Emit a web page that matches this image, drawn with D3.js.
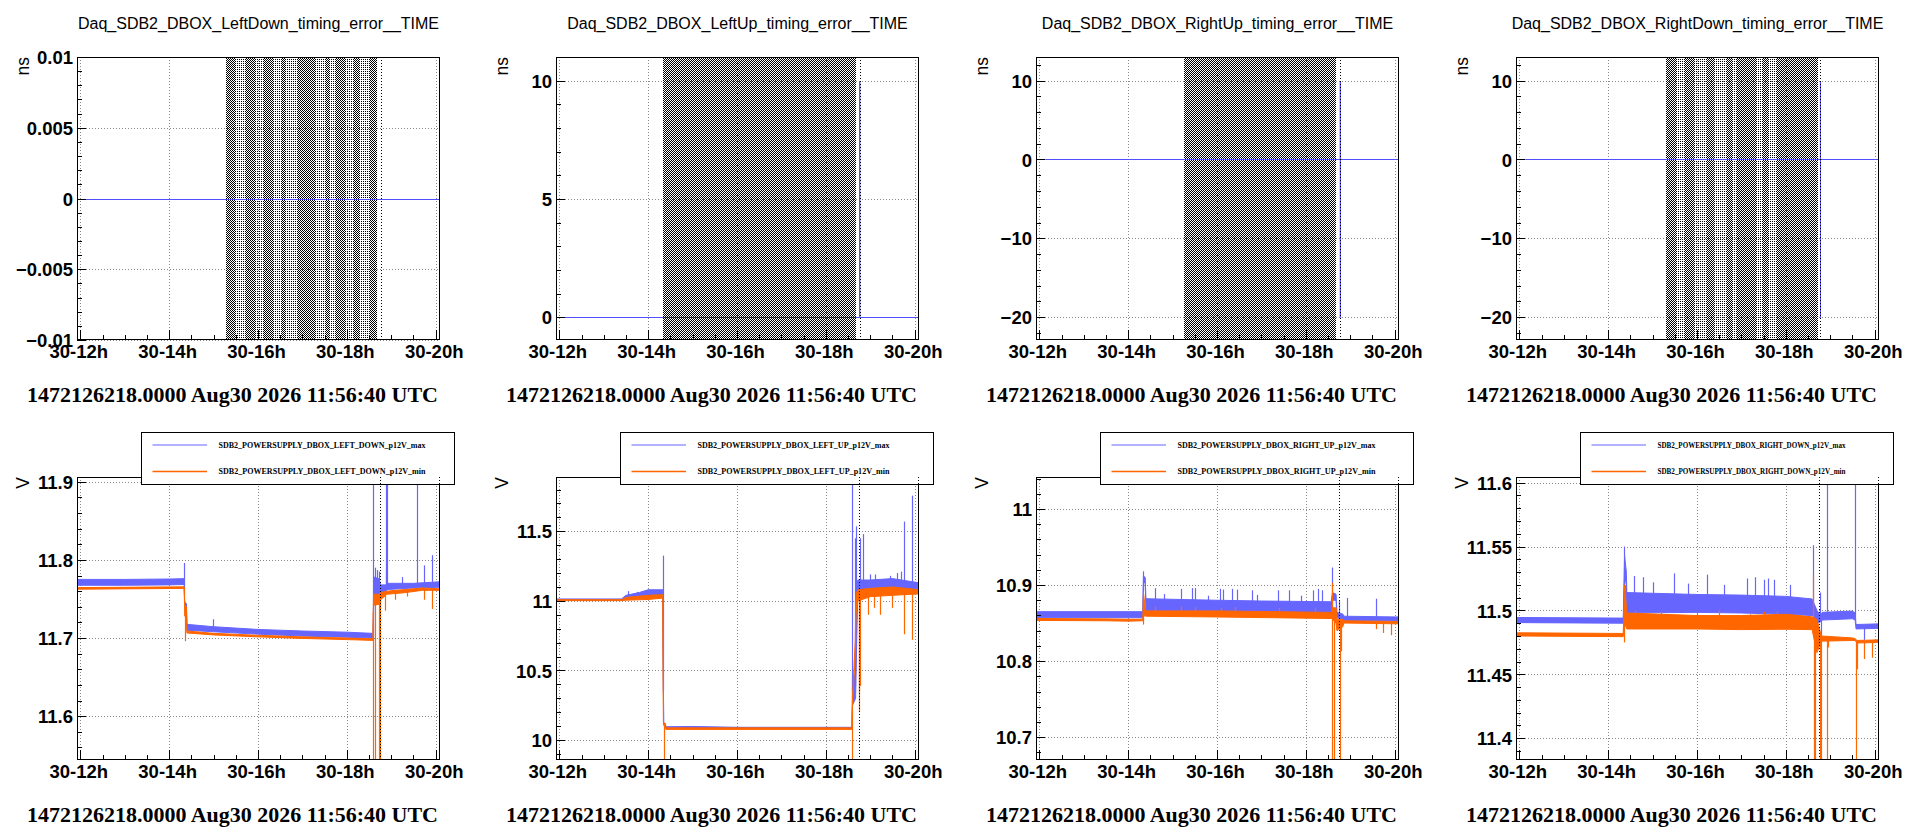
<!DOCTYPE html>
<html><head><meta charset="utf-8">
<script src="https://cdn.jsdelivr.net/npm/d3@7/dist/d3.min.js"></script>
<style>body{margin:0;background:#fff;overflow:hidden} svg{display:block}</style>
</head><body><svg id="c" width="1913" height="833"></svg>
<script>
// ---------------- DATA ----------------
const DAY = Date.UTC(2026, 7, 30);           // Aug 30 2026, times below in decimal UTC hours
const timeDomainHours = [11.926, 20.097];
const dateLabel = "1472126218.0000 Aug30 2026 11:56:40 UTC";

const timingTitles = [
  "Daq_SDB2_DBOX_LeftDown_timing_error__TIME",
  "Daq_SDB2_DBOX_LeftUp_timing_error__TIME",
  "Daq_SDB2_DBOX_RightUp_timing_error__TIME",
  "Daq_SDB2_DBOX_RightDown_timing_error__TIME"
];
const timingYDomains = [[-0.01, 0.01], [-0.96, 11.0], [-22.9, 13.0], [-22.9, 13.0]];
const timingYMajor = [0.005, 5, 10, 10];
const timingYMinor = [0.001, 1, 2, 2];

// timing error series [hour, ns]
const timingLD = [[12.135, 0], [20.097, 0]];
const timingLU = [[12.127, 0], [18.762, 0], [18.763, 10], [18.764, 0], [20.097, 0]];
const timingRU = [[12.15, 0], [18.775, 0], [18.776, 10], [18.777, -20], [18.778, 0], [20.097, 0]];
const timingRD = [[12.15, 0], [18.778, 0], [18.779, 10], [18.780, -20], [18.781, 0], [20.097, 0]];

// shaded error bands [startHour, endHour]
const bandLD_sparse = [[15.284, 18.674]];
const bandLD_dense = [[15.284, 15.509], [15.711, 15.936], [16.109, 16.341], [16.544, 16.611], [16.874, 17.286],
                      [17.511, 17.623], [17.736, 17.961], [18.134, 18.298], [18.523, 18.674]];
const bandLU_dense = [[14.339, 18.687]];
const bandRU_dense = [[15.261, 18.687]];
const bandRD_sparse = [[15.306, 18.718]];
const bandRD_dense = [[15.306, 15.531], [15.734, 15.943], [16.229, 16.393], [16.656, 16.806], [16.903, 17.331],
                      [17.481, 17.593], [17.781, 18.718]];

// black dotted marker times
const markerHoursTop = [18.77, 20.085];
const markerHoursBottom = [18.74, 20.085];

// power supply panels
const powerNames = ["LEFT_DOWN", "LEFT_UP", "RIGHT_UP", "RIGHT_DOWN"];
const powerYDomains = [[11.544, 11.906], [9.857, 11.89], [10.670, 11.042], [11.383, 11.6044]];
const powerYMajor = [0.1, 0.5, 0.1, 0.05];
const powerYMinor = [0.02, 0.1, 0.02, 0.01];

// max / min series: envelope [hour, low, high] and excursions [hour, value]
const ldMaxBand = [[11.93, 11.7675, 11.775], [13.0, 11.7675, 11.775], [14.0, 11.768, 11.7755], [14.34, 11.7685, 11.776],
  [14.35, 11.737, 11.746], [14.39, 11.735, 11.744], [14.40, 11.710, 11.7175], [15.0, 11.708, 11.7145],
  [16.0, 11.705, 11.711], [17.0, 11.7025, 11.709], [18.0, 11.701, 11.7075], [18.58, 11.700, 11.706],
  [18.59, 11.698, 11.703], [18.61, 11.755, 11.778], [18.72, 11.755, 11.776], [18.76, 11.755, 11.768],
  [18.88, 11.757, 11.768], [18.90, 11.762, 11.770], [19.5, 11.764, 11.770], [20.097, 11.765, 11.772]];
const ldMaxSpikes = [[14.345, 11.796], [14.98, 11.724], [18.585, 11.95], [18.64, 11.79], [18.69, 11.787],
  [18.73, 11.785], [18.875, 11.788], [18.89, 11.95], [18.905, 11.95], [19.25, 11.778], [19.59, 11.95],
  [19.74, 11.793], [19.92, 11.806]];
const ldMinBand = [[11.93, 11.7625, 11.7645], [14.34, 11.7635, 11.7655], [14.35, 11.728, 11.742], [14.39, 11.728, 11.740],
  [14.40, 11.7065, 11.709], [15.0, 11.704, 11.706], [16.0, 11.7015, 11.7035], [17.0, 11.6995, 11.7015],
  [18.0, 11.698, 11.700], [18.59, 11.697, 11.699], [18.60, 11.742, 11.756], [18.72, 11.743, 11.756],
  [18.76, 11.749, 11.758], [18.90, 11.756, 11.760], [19.3, 11.758, 11.762], [19.7, 11.761, 11.764], [20.097, 11.761, 11.763]];
const ldMinSpikes = [[14.348, 11.696], [18.597, 11.50], [18.627, 11.50], [18.735, 11.50], [18.755, 11.50],
  [18.86, 11.735], [19.08, 11.749], [19.35, 11.753], [19.74, 11.749], [19.92, 11.737]];

const luMaxBand = [[11.93, 11.005, 11.014], [13.40, 11.005, 11.014], [13.50, 11.01, 11.04], [13.80, 11.02, 11.06],
  [14.0, 11.03, 11.08], [14.33, 11.04, 11.08], [14.35, 10.11, 10.125], [14.40, 10.086, 10.096], [15.0, 10.086, 10.098],
  [16.0, 10.086, 10.092], [18.59, 10.086, 10.092], [18.60, 10.25, 10.45], [18.67, 10.30, 10.48], [18.70, 10.8, 11.1],
  [18.72, 11.07, 11.15], [19.0, 11.08, 11.15], [19.5, 11.08, 11.16], [20.097, 11.08, 11.13]];
const luMaxSpikes = [[13.55, 11.07], [13.75, 11.065], [14.345, 11.325], [18.60, 12.0], [18.66, 11.45], [18.69, 11.536], [18.76, 11.45], [18.83, 11.48],
  [19.0, 11.19], [19.1, 11.19], [19.45, 11.18], [19.6, 11.2], [19.7, 11.21], [19.76, 11.57], [19.93, 11.756]];
const luMinBand = [[11.93, 11.002, 11.009], [13.40, 11.002, 11.009], [13.50, 11.005, 11.025], [14.0, 11.01, 11.04],
  [14.33, 11.02, 11.045], [14.345, 10.11, 10.125], [14.39, 10.11, 10.12], [14.40, 10.077, 10.088], [18.59, 10.077, 10.088],
  [18.60, 10.25, 10.30], [18.66, 10.6, 10.7], [18.68, 10.9, 11.05], [18.72, 11.0, 11.08], [19.0, 11.03, 11.09],
  [19.5, 11.04, 11.10], [20.097, 11.05, 11.08]];
const luMinSpikes = [[14.346, 9.5], [18.597, 9.5], [18.74, 10.2], [18.75, 10.35], [18.77, 10.39], [18.95, 10.9],
  [19.08, 10.95], [19.23, 10.9], [19.5, 10.95], [19.76, 10.76], [19.93, 10.72]];

const ruMaxBand = [[11.93, 10.857, 10.865], [14.33, 10.857, 10.865], [14.345, 10.903, 10.912], [14.385, 10.903, 10.91],
  [14.40, 10.866, 10.882], [16.0, 10.865, 10.880], [17.0, 10.864, 10.879], [18.57, 10.862, 10.878],
  [18.60, 10.880, 10.890], [18.68, 10.880, 10.888], [18.70, 10.857, 10.864], [18.83, 10.855, 10.862],
  [18.86, 10.853, 10.859], [20.097, 10.853, 10.858]];
const ruMaxSpikes = [[14.34, 10.918], [14.60, 10.896], [14.8, 10.888], [15.20, 10.895], [15.43, 10.896], [15.50, 10.896],
  [15.8, 10.886], [16.06, 10.895], [16.14, 10.894], [16.33, 10.895], [16.44, 10.894], [16.78, 10.893], [16.9, 10.887],
  [17.38, 10.893], [17.62, 10.893], [17.9, 10.886], [18.16, 10.893], [18.27, 10.895], [18.37, 10.893],
  [18.597, 10.923], [18.75, 10.879], [18.93, 10.883], [19.57, 10.882]];
const ruMinBand = [[11.93, 10.8535, 10.856], [13.5, 10.853, 10.8555], [14.0, 10.8525, 10.855], [14.33, 10.853, 10.855],
  [14.345, 10.858, 10.89], [14.38, 10.86, 10.872], [14.40, 10.859, 10.866], [16.0, 10.858, 10.866],
  [18.57, 10.856, 10.864], [18.60, 10.855, 10.87], [18.68, 10.85, 10.87], [18.70, 10.84, 10.855],
  [18.83, 10.845, 10.855], [18.86, 10.850, 10.853], [20.097, 10.849, 10.852]];
const ruMinSpikes = [[14.34, 10.848], [14.6, 10.872], [15.2, 10.872], [15.5, 10.871], [16.1, 10.870], [16.4, 10.871],
  [17.4, 10.870], [18.2, 10.870], [18.597, 10.5], [18.60, 10.903], [18.627, 10.5], [18.762, 10.5], [18.80, 10.813],
  [19.57, 10.842], [19.74, 10.837], [19.92, 10.834]];

const rdMaxBand = [[11.95, 11.4905, 11.4945], [14.34, 11.490, 11.494], [14.37, 11.527, 11.543], [14.41, 11.520, 11.53],
  [14.42, 11.498, 11.514], [16.0, 11.4985, 11.5125], [17.0, 11.498, 11.512], [18.0, 11.497, 11.511],
  [18.59, 11.496, 11.509], [18.64, 11.495, 11.505], [18.70, 11.490, 11.500], [18.78, 11.491, 11.496],
  [18.82, 11.4925, 11.4985], [19.50, 11.4935, 11.4995], [19.56, 11.4925, 11.498], [19.58, 11.4855, 11.489],
  [20.097, 11.486, 11.4895]];
const rdMaxSpikes = [[14.36, 11.550], [14.58, 11.527], [14.79, 11.526], [15.0, 11.522], [15.48, 11.529], [15.8, 11.521],
  [16.23, 11.528], [16.6, 11.52], [17.13, 11.525], [17.3, 11.526], [17.5, 11.524], [17.6, 11.525], [17.73, 11.524],
  [18.1, 11.52], [18.614, 11.551], [18.76, 11.514], [18.80, 11.48], [18.93, 11.62], [19.566, 11.62], [19.75, 11.477]];
const rdMinBand = [[11.95, 11.480, 11.4825], [14.34, 11.4795, 11.482], [14.37, 11.49, 11.52], [14.42, 11.4855, 11.498],
  [16.0, 11.4855, 11.496], [17.0, 11.485, 11.496], [18.0, 11.4853, 11.497], [18.59, 11.485, 11.495],
  [18.70, 11.467, 11.493], [18.80, 11.476, 11.48], [19.50, 11.4765, 11.4785], [19.56, 11.4765, 11.478],
  [19.60, 11.4745, 11.4765], [20.097, 11.475, 11.477]];
const rdMinSpikes = [[14.36, 11.475], [14.38, 11.520], [14.6, 11.5], [15.2, 11.499], [16.0, 11.498], [16.5, 11.5],
  [17.2, 11.497], [17.5, 11.499], [17.8, 11.499], [18.614, 11.528], [18.629, 11.30], [18.667, 11.30], [18.764, 11.30],
  [18.801, 11.30], [18.929, 11.30], [18.95, 11.471], [19.581, 11.30], [19.60, 11.454], [19.753, 11.462], [19.94, 11.463]];

// ---------------- LAYOUT / STYLE ----------------
const plotW = 363, plotH = 283;
const colLeft = i => Math.round(76.7 + i * 479.65);
const rowTop = [57, 477];
const legendTextWidths = [207, 192, 198, 188];
const BLUE_T = "#5050ff", BLUE = "#6666ff", ORANGE = "#ff6600";
const SANS = "'Liberation Sans', Arial, Helvetica, sans-serif";
const SERIF = "'Liberation Serif', 'Times New Roman', serif";

const toDate = h => new Date(DAY + h * 3600e3);
const svg = d3.select("#c");
const defs = svg.append("defs");
const pd = defs.append("pattern").attr("id", "pDense").attr("patternUnits", "userSpaceOnUse").attr("width", 2).attr("height", 2);
pd.append("rect").attr("x", 0).attr("y", 0).attr("width", 1).attr("height", 1).attr("fill", "#000");
pd.append("rect").attr("x", 1).attr("y", 1).attr("width", 1).attr("height", 1).attr("fill", "#000");
const ps = defs.append("pattern").attr("id", "pSparse").attr("patternUnits", "userSpaceOnUse").attr("width", 2).attr("height", 2);
ps.append("rect").attr("x", 0).attr("y", 0).attr("width", 1).attr("height", 1).attr("fill", "#000");

function stepTicks(dom, step) {
  const out = [];
  for (let k = Math.ceil(dom[0] / step - 1e-9); k * step <= dom[1] + 1e-9; k++) out.push(+(k * step).toFixed(6));
  return out;
}
const fmtY = d3.format("~g");
const fmtX = d3.utcFormat("%d-%Hh");
let clipId = 0;

function makePanel(col, row, yDomain, major, minor, yLabel) {
  const left = colLeft(col), top = rowTop[row];
  const g = svg.append("g").attr("transform", `translate(${left},${top})`);
  const x = d3.scaleUtc().domain(timeDomainHours.map(toDate)).range([0, plotW]);
  const y = d3.scaleLinear().domain(yDomain).range([plotH, 0]);
  g.append("rect").attr("width", plotW).attr("height", plotH).attr("fill", "#fff");
  const xMaj = x.ticks(d3.utcHour.every(2)), xMin = x.ticks(d3.utcMinute.every(30));
  const yMaj = stepTicks(yDomain, major), yMin = stepTicks(yDomain, minor);
  // grid
  const grid = g.append("g").attr("stroke", "#888").attr("stroke-dasharray", "1,2").attr("stroke-width", 1).attr("shape-rendering", "crispEdges");
  grid.selectAll(null).data(xMaj).join("line").attr("x1", d => Math.round(x(d)) + 0.5).attr("x2", d => Math.round(x(d)) + 0.5).attr("y1", 0).attr("y2", plotH);
  grid.selectAll(null).data(yMaj).join("line").attr("y1", d => Math.round(y(d)) + 0.5).attr("y2", d => Math.round(y(d)) + 0.5).attr("x1", 0).attr("x2", plotW);
  const clip = "clip" + (clipId++);
  defs.append("clipPath").attr("id", clip).append("rect").attr("width", plotW).attr("height", plotH);
  const data = g.append("g").attr("clip-path", `url(#${clip})`);
  const over = g.append("g");
  // x axis
  const ax = over.append("g").attr("transform", `translate(0,${plotH})`);
  ax.call(d3.axisBottom(x).tickValues(xMin).tickSize(-5.5).tickFormat(""));
  const axM = over.append("g").attr("transform", `translate(0,${plotH})`);
  axM.call(d3.axisBottom(x).tickValues(xMaj).tickSize(-10).tickFormat(fmtX));
  [ax, axM].forEach(a => { a.select(".domain").remove(); a.attr("font-size", null).attr("font-family", null); a.selectAll("line").attr("shape-rendering", "crispEdges"); });
  axM.selectAll("text").attr("y", 18).attr("dy", null).attr("x", -2)
    .style("font-family", SANS).style("font-weight", "bold").style("font-size", "18.5px").attr("fill", "#000");
  // y axis
  const ay = over.append("g");
  ay.call(d3.axisLeft(y).tickValues(yMin).tickSize(-4.5).tickFormat(""));
  const ayM = over.append("g");
  ayM.call(d3.axisLeft(y).tickValues(yMaj).tickSize(-9).tickFormat(fmtY));
  [ay, ayM].forEach(a => { a.select(".domain").remove(); a.attr("font-size", null).attr("font-family", null); a.selectAll("line").attr("shape-rendering", "crispEdges"); });
  ayM.selectAll("text").attr("x", -4).attr("dy", "0.36em")
    .style("font-family", SANS).style("font-weight", "bold").style("font-size", "18.5px").attr("fill", "#000");
  // frame
  over.append("rect").attr("x", 0.5).attr("y", 0.5).attr("width", plotW - 1).attr("height", plotH - 1)
    .attr("fill", "none").attr("stroke", "#000").attr("stroke-width", 1).attr("shape-rendering", "crispEdges");
  // y label
  over.append("text").attr("transform", `translate(-48,0) rotate(-90)`).attr("text-anchor", "end")
    .style("font-family", SANS).style("font-size", "17.5px").text(yLabel);
  // date label
  g.append("text").attr("x", -50).attr("y", (row === 0 ? 402 : 822) - top)
    .attr("textLength", 411).attr("lengthAdjust", "spacingAndGlyphs")
    .style("font-family", SERIF).style("font-weight", "bold").style("font-size", "21px").text(dateLabel);
  return {g, x, y, data, over, left, top};
}

function drawMarkers(p, hours) {
  p.over.append("g").selectAll(null).data(hours).join("line")
    .attr("x1", d => Math.round(p.x(toDate(d))) + 0.5).attr("x2", d => Math.round(p.x(toDate(d))) + 0.5)
    .attr("y1", 0).attr("y2", plotH)
    .attr("stroke", "#000").attr("stroke-width", 1).attr("stroke-dasharray", "1,2").attr("shape-rendering", "crispEdges");
}

// ---------------- TOP ROW: timing error ----------------
const timingPanels = [
  {line: timingLD, sparse: bandLD_sparse, dense: bandLD_dense, bandOnTop: false},
  {line: timingLU, sparse: [], dense: bandLU_dense, bandOnTop: true},
  {line: timingRU, sparse: [], dense: bandRU_dense, bandOnTop: false},
  {line: timingRD, sparse: bandRD_sparse, dense: bandRD_dense, bandOnTop: false}
];
timingPanels.forEach((tp, i) => {
  const p = makePanel(i, 0, timingYDomains[i], timingYMajor[i], timingYMinor[i], "ns");
  const bx = d => Math.round(p.x(toDate(d[0])));
  const bw = d => Math.round(p.x(toDate(d[1]))) - Math.round(p.x(toDate(d[0])));
  const drawBands = () => {
    p.data.append("g").selectAll(null).data(tp.sparse).join("rect").attr("x", bx).attr("width", bw)
      .attr("y", 0).attr("height", plotH).attr("fill", "url(#pSparse)");
    p.data.append("g").selectAll(null).data(tp.dense).join("rect").attr("x", bx).attr("width", bw)
      .attr("y", 0).attr("height", plotH).attr("fill", "url(#pDense)");
  };
  const line = d3.line().x(d => p.x(toDate(d[0]))).y(d => Math.round(p.y(d[1])) + 0.5);
  if (!tp.bandOnTop) drawBands();
  p.data.append("path").datum(tp.line).attr("d", line).attr("fill", "none").attr("stroke", BLUE_T).attr("stroke-width", 1);
  if (tp.bandOnTop) drawBands();
  drawMarkers(p, markerHoursTop);
  // title
  p.g.append("text").attr("x", plotW / 2).attr("y", 29 - p.top).attr("text-anchor", "middle")
    .style("font-family", SANS).style("font-size", "16px").text(timingTitles[i]);
});

// ---------------- BOTTOM ROW: power supply ----------------
const powerSeries = [
  [ldMaxBand, ldMaxSpikes, ldMinBand, ldMinSpikes],
  [luMaxBand, luMaxSpikes, luMinBand, luMinSpikes],
  [ruMaxBand, ruMaxSpikes, ruMinBand, ruMinSpikes],
  [rdMaxBand, rdMaxSpikes, rdMinBand, rdMinSpikes]
];
function bandMid(band, h) {
  if (h <= band[0][0]) return (band[0][1] + band[0][2]) / 2;
  for (let i = 1; i < band.length; i++) {
    if (h <= band[i][0]) {
      const a = band[i - 1], b = band[i], t = (h - a[0]) / (b[0] - a[0]);
      return ((a[1] + a[2]) / 2) * (1 - t) + ((b[1] + b[2]) / 2) * t;
    }
  }
  const l = band[band.length - 1];
  return (l[1] + l[2]) / 2;
}
function drawSeries(p, band, spikes, color) {
  const area = d3.area().x(d => p.x(toDate(d[0]))).y0(d => p.y(d[1])).y1(d => p.y(d[2]));
  p.data.append("path").datum(band).attr("d", area).attr("fill", color).attr("stroke", color).attr("stroke-width", 1);
  p.data.append("g").selectAll(null).data(spikes).join("line")
    .attr("x1", d => Math.round(p.x(toDate(d[0]))) + 0.5).attr("x2", d => Math.round(p.x(toDate(d[0]))) + 0.5)
    .attr("y1", d => p.y(bandMid(band, d[0]))).attr("y2", d => p.y(d[1]))
    .attr("stroke", color).attr("stroke-width", 1.2);
}
powerSeries.forEach((s, i) => {
  const p = makePanel(i, 1, powerYDomains[i], powerYMajor[i], powerYMinor[i], "V");
  drawSeries(p, s[0], s[1], BLUE);
  drawSeries(p, s[2], s[3], ORANGE);
  // legend
  const lg = p.over.append("g");
  lg.append("rect").attr("x", 64.5).attr("y", -44.5).attr("width", 313).attr("height", 52)
    .attr("fill", "#fff").attr("stroke", "#000").attr("stroke-width", 1.2).attr("shape-rendering", "crispEdges");
  const entries = [["SDB2_POWERSUPPLY_DBOX_" + powerNames[i] + "_p12V_max", BLUE, 1.2, -32],
                   ["SDB2_POWERSUPPLY_DBOX_" + powerNames[i] + "_p12V_min", ORANGE, 1.6, -5.5]];
  entries.forEach(e => {
    lg.append("line").attr("x1", 75.5).attr("x2", 130).attr("y1", e[3]).attr("y2", e[3]).attr("stroke", e[1]).attr("stroke-width", e[2]);
    lg.append("text").attr("x", 141.5).attr("y", e[3]).attr("dy", "0.33em")
      .attr("textLength", legendTextWidths[i]).attr("lengthAdjust", "spacingAndGlyphs")
      .style("font-family", SERIF).style("font-weight", "bold").style("font-size", "8px").text(e[0]);
  });
  drawMarkers(p, markerHoursBottom);
});
</script></body></html>
